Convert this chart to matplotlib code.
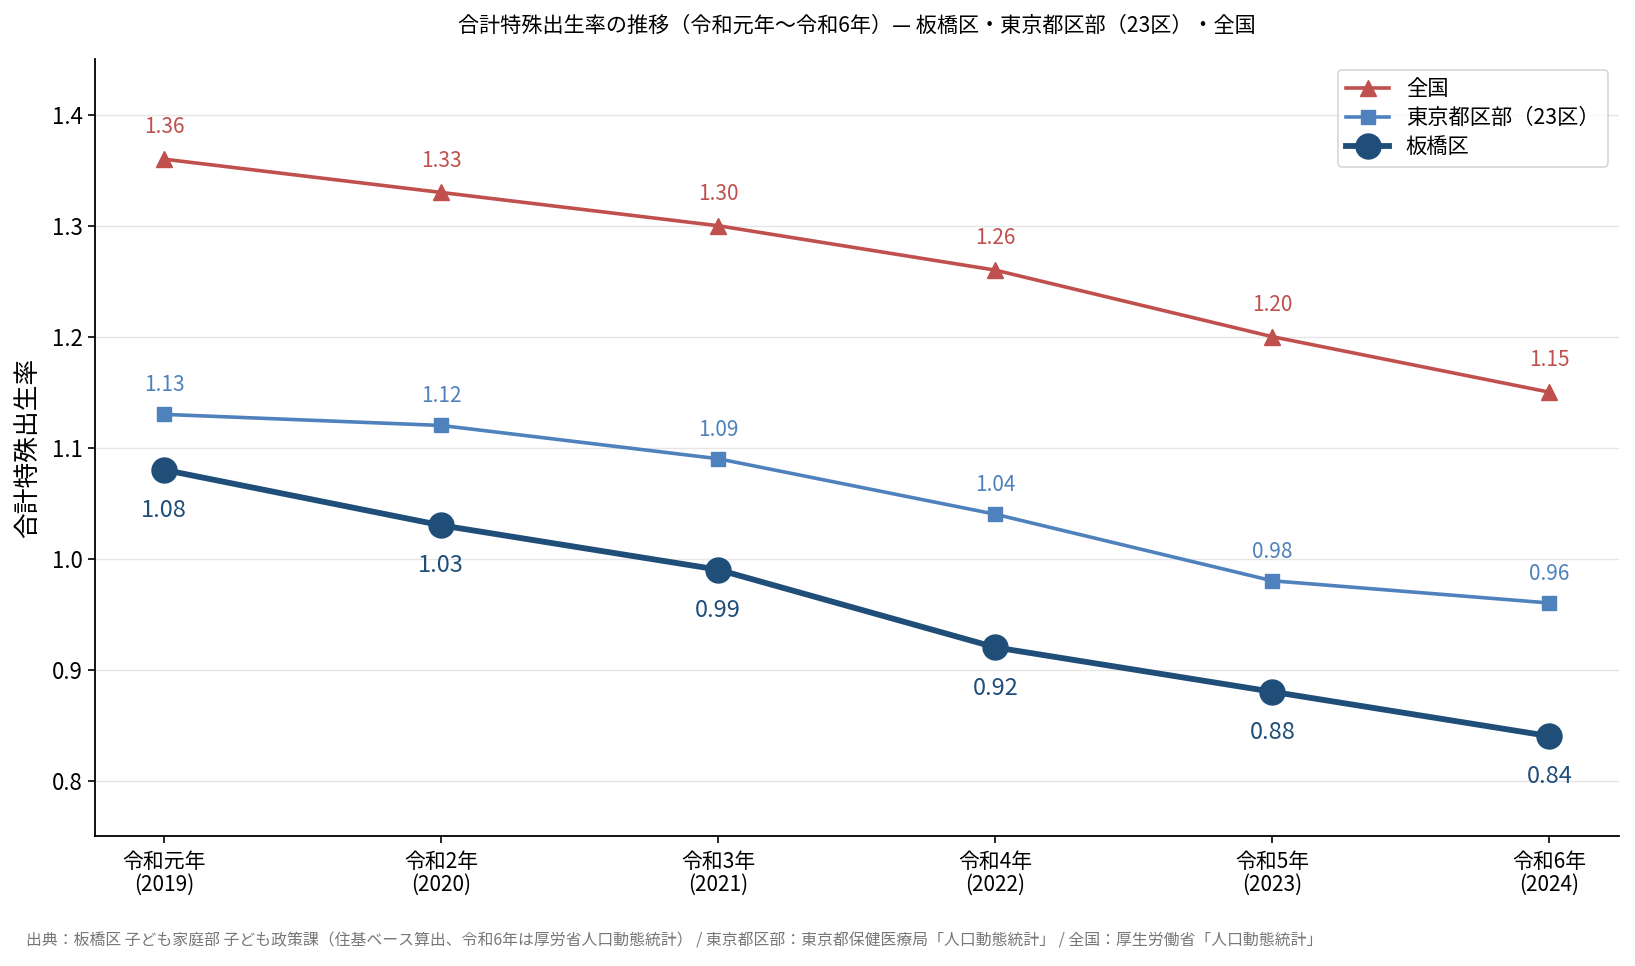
import matplotlib
matplotlib.use("Agg")
import matplotlib.pyplot as plt

plt.rcParams['font.family'] = ['Noto Sans CJK JP', 'DejaVu Sans']

years = ["令和元年\n(2019)", "令和2年\n(2020)", "令和3年\n(2021)", "令和4年\n(2022)", "令和5年\n(2023)", "令和6年\n(2024)"]
zenkoku = [1.36, 1.33, 1.30, 1.26, 1.20, 1.15]
tokyo23 = [1.13, 1.12, 1.09, 1.04, 0.98, 0.96]
itabashi = [1.08, 1.03, 0.99, 0.92, 0.88, 0.84]

c_red = "#C0504D"
c_blue = "#4F81BD"
c_navy = "#1F4E79"

fig = plt.figure(figsize=(16.35, 9.66), dpi=100)
ax = fig.add_axes([0.058, 0.1346, 0.932, 0.804])
x = list(range(len(years)))

ax.plot(x, zenkoku, color=c_red, lw=2.6, marker="^", ms=11, label="全国", zorder=3)
ax.plot(x, tokyo23, color=c_blue, lw=2.6, marker="s", ms=10, label="東京都区部（23区）", zorder=3)
ax.plot(x, itabashi, color=c_navy, lw=4.2, marker="o", ms=18, label="板橋区", zorder=4)

for xi, v in zip(x, zenkoku):
    ax.annotate(f"{v:.2f}", (xi, v), xytext=(0, 15), textcoords="offset points",
                ha="center", va="bottom", color=c_red, fontsize=15)
for xi, v in zip(x, tokyo23):
    ax.annotate(f"{v:.2f}", (xi, v), xytext=(0, 13), textcoords="offset points",
                ha="center", va="bottom", color=c_blue, fontsize=15)
for xi, v in zip(x, itabashi):
    ax.annotate(f"{v:.2f}", (xi, v), xytext=(0, -21), textcoords="offset points",
                ha="center", va="top", color=c_navy, fontsize=17)

ax.set_xlim(-0.25, 5.25)
ax.set_ylim(0.75, 1.45)
ax.set_xticks(x)
ax.set_xticklabels(years, fontsize=15, linespacing=1.05)
ax.set_yticks([0.8, 0.9, 1.0, 1.1, 1.2, 1.3, 1.4])
ax.set_yticklabels(["0.8", "0.9", "1.0", "1.1", "1.2", "1.3", "1.4"], fontsize=16)
ax.tick_params(axis="both", length=5, width=1.2)
ax.tick_params(axis="x", pad=6)
ax.set_ylabel("合計特殊出生率", fontsize=18.5, labelpad=8)
ax.grid(axis="y", color="#e6e6e6", lw=1)
ax.set_axisbelow(True)
for s in ["top", "right"]:
    ax.spines[s].set_visible(False)
for s in ["left", "bottom"]:
    ax.spines[s].set_linewidth(1.3)

ax.set_title("合計特殊出生率の推移（令和元年〜令和6年）— 板橋区・東京都区部（23区）・全国",
             fontsize=15.2, pad=20)

leg = ax.legend(loc="upper right", fontsize=15.3, frameon=True, fancybox=True,
                borderpad=0.4, labelspacing=0.32, handlelength=2.0, markerscale=1.0)
leg.get_frame().set_edgecolor("#cccccc")
leg.get_frame().set_linewidth(1.2)

fig.text(0.016, 0.026, "出典：板橋区 子ども家庭部 子ども政策課（住基ベース算出、令和6年は厚労省人口動態統計） / 東京都区部：東京都保健医療局「人口動態統計」 / 全国：厚生労働省「人口動態統計」",
         fontsize=11.4, color="#777777", ha="left", va="center")

fig.savefig("out.png", dpi=100)
